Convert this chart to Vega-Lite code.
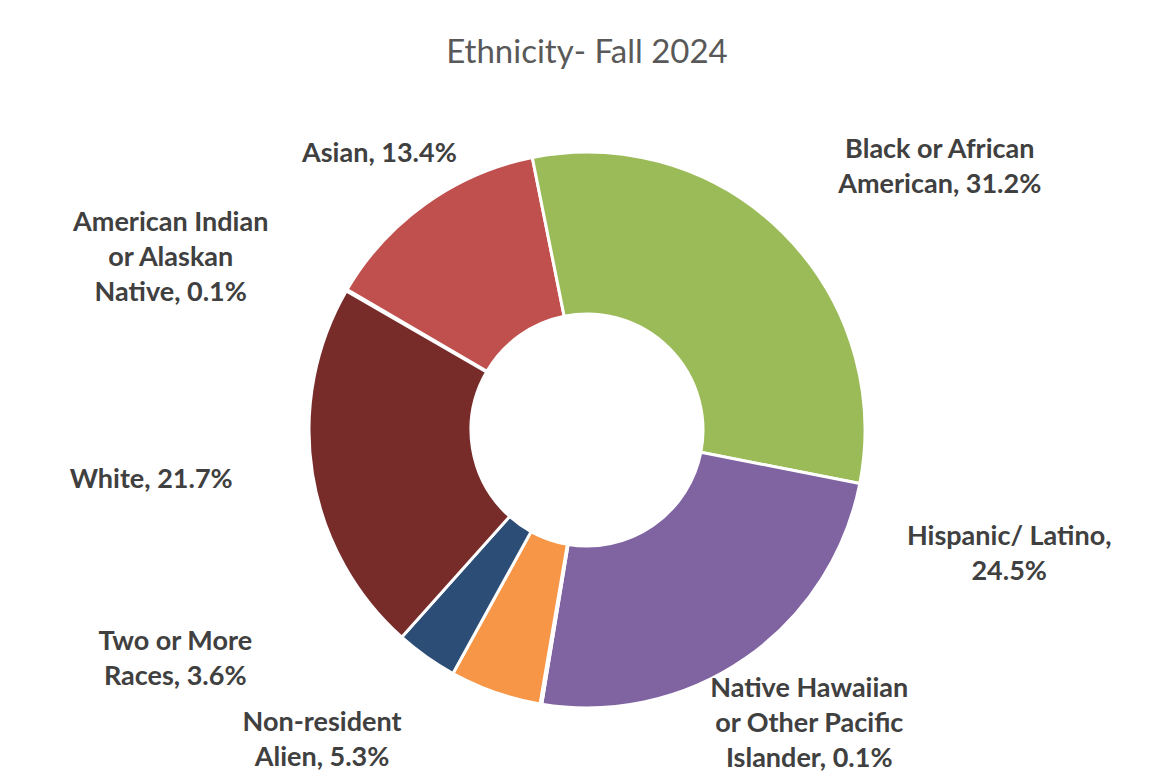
{
  "$schema": "https://vega.github.io/schema/vega-lite/v6.json",
  "autosize": {"type": "none"},
  "padding": {"left": 14, "top": 86, "right": 0, "bottom": 0},
  "width": 1146,
  "height": 688,
  "background": "white",
  "title": {
    "text": "Ethnicity- Fall 2024",
    "font": "Lato",
    "fontSize": 33,
    "fontWeight": "normal",
    "color": "#595959",
    "anchor": "middle",
    "frame": "group",
    "offset": 16
  },
  "data": {
    "values": [
      {"ethnicity": "American Indian or Alaskan Native", "pct": 0.1, "label": "American Indian\nor Alaskan\nNative, 0.1%"},
      {"ethnicity": "Asian", "pct": 13.4, "label": "Asian, 13.4%"},
      {"ethnicity": "Black or African American", "pct": 31.2, "label": "Black or African\nAmerican, 31.2%"},
      {"ethnicity": "Hispanic/ Latino", "pct": 24.5, "label": "Hispanic/ Latino,\n24.5%"},
      {"ethnicity": "Native Hawaiian or Other Pacific Islander", "pct": 0.1, "label": "Native Hawaiian\nor Other Pacific\nIslander, 0.1%"},
      {"ethnicity": "Non-resident Alien", "pct": 5.3, "label": "Non-resident\nAlien, 5.3%"},
      {"ethnicity": "Two or More Races", "pct": 3.6, "label": "Two or More\nRaces, 3.6%"},
      {"ethnicity": "White", "pct": 21.7, "label": "White, 21.7%"}
    ]
  },
  "encoding": {
    "theta": {
      "field": "pct",
      "type": "quantitative",
      "stack": true,
      "scale": {"range": [-1.0472, 5.2360]}
    }
  },
  "layer": [
    {
      "mark": {"type": "arc", "innerRadius": 116, "outerRadius": 278, "stroke": "white", "strokeWidth": 3},
      "encoding": {
        "color": {
          "field": "ethnicity",
          "type": "nominal",
          "legend": null,
          "sort": "ascending",
          "scale": {
            "domain": ["American Indian or Alaskan Native", "Asian", "Black or African American", "Hispanic/ Latino", "Native Hawaiian or Other Pacific Islander", "Non-resident Alien", "Two or More Races", "White"],
            "range": ["#4F81BD", "#C0504D", "#9BBB59", "#8064A2", "#4BACC6", "#F79646", "#2C4D75", "#772C2A"]
          }
        }
      }
    },
    {
      "mark": {
        "type": "text",
        "radius": 330,
        "font": "Lato",
        "fontSize": 27,
        "fontWeight": "bold",
        "color": "#404040",
        "lineBreak": "\n",
        "lineHeight": 35,
        "align": "center",
        "baseline": "middle",
        "dx": {"expr": "{'American Indian or Alaskan Native': -131, 'Asian': -16, 'Black or African American': 120, 'Hispanic/ Latino': 234, 'Native Hawaiian or Other Pacific Islander': 277, 'Non-resident Alien': -156, 'Two or More Races': -221, 'White': -110}[datum.ethnicity]"},
        "dy": {"expr": "{'American Indian or Alaskan Native': -41, 'Asian': -7, 'Black or African American': -46, 'Hispanic/ Latino': -164, 'Native Hawaiian or Other Pacific Islander': -66, 'Non-resident Alien': -18, 'Two or More Races': -57, 'White': -2}[datum.ethnicity]"}
      },
      "encoding": {
        "detail": {"field": "ethnicity", "type": "nominal", "sort": "ascending"},
        "text": {"field": "label", "type": "nominal"}
      }
    }
  ],
  "config": {"view": {"stroke": null}}
}
